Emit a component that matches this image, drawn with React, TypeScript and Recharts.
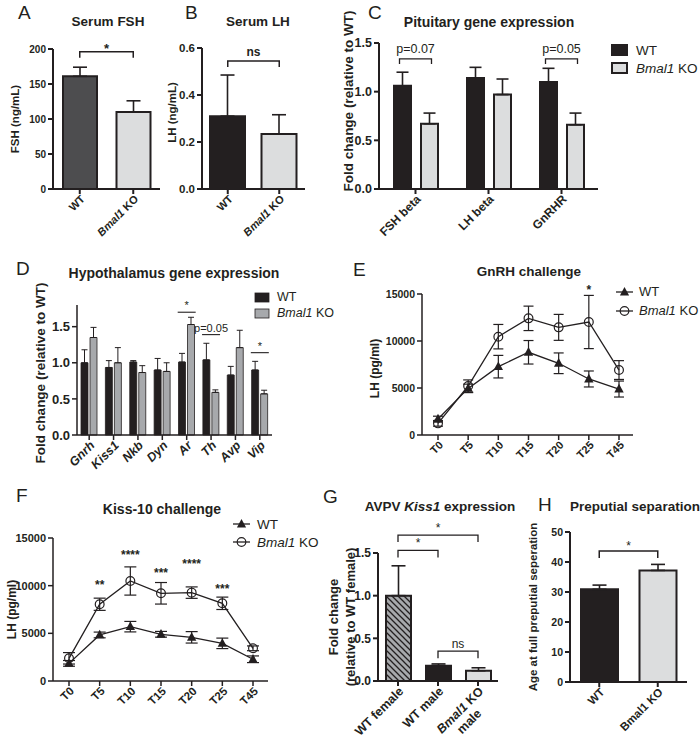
import React from 'react';
import {
  BarChart, Bar, LineChart, Line, XAxis, YAxis, Cell, ErrorBar,
  ReferenceLine, ReferenceDot, Legend,
} from 'recharts';

const FONT = '"Liberation Sans", Arial, Helvetica, sans-serif';
const INK = '#231f20';

// ---------------- data ----------------
const aCats = ['WT', 'Bmal1 KO'];
const aMeans = [161, 110];
const aSems = [13, 16];

const bCats = ['WT', 'Bmal1 KO'];
const bMeans = [0.31, 0.234];
const bSems = [0.175, 0.082];

const cGenes = ['FSH beta', 'LH beta', 'GnRHR'];
const cWT = [1.06, 1.14, 1.1];
const cWTSem = [0.14, 0.11, 0.14];
const cKO = [0.67, 0.97, 0.66];
const cKOSem = [0.11, 0.16, 0.12];

const dGenes = ['Gnrh', 'Kiss1', 'Nkb', 'Dyn', 'Ar', 'Th', 'Avp', 'Vip'];
const dWT = [1.0, 0.935, 1.01, 0.9, 1.01, 1.04, 0.83, 0.9];
const dWTSem = [0.18, 0.095, 0.02, 0.16, 0.12, 0.23, 0.12, 0.12];
const dKO = [1.35, 1.0, 0.865, 0.88, 1.53, 0.59, 1.21, 0.57];
const dKOSem = [0.14, 0.21, 0.095, 0.12, 0.1, 0.035, 0.24, 0.05];

const times = ['T0', 'T5', 'T10', 'T15', 'T20', 'T25', 'T45'];
const eWT = [1700, 4960, 7270, 8800, 7630, 5960, 4890];
const eWTSem = [300, 450, 1200, 1250, 1100, 850, 850];
const eKO = [1240, 5210, 10460, 12410, 11450, 12020, 6910];
const eKOSem = [300, 650, 1300, 1300, 1380, 2830, 1000];
const eStars = [{ t: 'T25', text: '*', y: 14890 }];

const fWT = [1850, 4830, 5700, 4900, 4580, 3950, 2280];
const fWTSem = [300, 300, 550, 300, 600, 550, 350];
const fKO = [2380, 8050, 10490, 9200, 9270, 8150, 3430];
const fKOSem = [600, 640, 1480, 1130, 600, 650, 250];
const fStars = [
  { t: 'T5', text: '**', y: 9650 },
  { t: 'T10', text: '****', y: 12800 },
  { t: 'T15', text: '***', y: 10910 },
  { t: 'T20', text: '****', y: 11860 },
  { t: 'T25', text: '***', y: 9230 },
];

const gCats = ['WT female', 'WT male', 'Bmal1 KO\nmale'];
const gMeans = [1.0, 0.18, 0.12];
const gSems = [0.35, 0.02, 0.035];

const hCats = ['WT', 'Bmal1 KO'];
const hMeans = [30.9, 37.2];
const hSems = [1.4, 2.0];

const aBrackets = [{ from: 'WT', to: 'Bmal1 KO', y: 196, text: '*' }];
const bBrackets = [{ from: 'WT', to: 'Bmal1 KO', y: 0.545, text: 'ns' }];
const cBrackets = [
  { from: 'FSH beta', to: 'FSH beta', y: 1.336, text: 'p=0.07' },
  { from: 'GnRHR', to: 'GnRHR', y: 1.336, text: 'p=0.05' },
];
const dBrackets = [
  { from: 'Ar', to: 'Ar', y: 1.7, text: '*' },
  { from: 'Th', to: 'Th', y: 1.39, text: 'p=0.05' },
  { from: 'Vip', to: 'Vip', y: 1.14, text: '*' },
];
const gBrackets = [
  { from: 'WT female', to: 'Bmal1 KO\nmale', y: 1.71, text: '*' },
  { from: 'WT female', to: 'WT male', y: 1.53, text: '*' },
  { from: 'WT male', to: 'Bmal1 KO\nmale', y: 0.35, text: 'ns' },
];
const hBrackets = [{ from: 'WT', to: 'Bmal1 KO', y: 43.7, text: '*' }];

// ---------------- styling (kept out of data) ----------------
const aFills = ['#4d4d4f', '#dcddde'];
const bFills = ['#231f20', '#dcddde'];
const gFills = ['url(#hatch)', '#231f20', '#dcddde'];
const hFills = ['#231f20', '#dcddde'];

// ---------------- tables ----------------
const cellTable = (cats: string[], m: number[], s: number[]) =>
  cats.map((c, i) => ({ c, v: m[i], e: [0, s[i]] }));
const pairTable = (cats: string[], w: number[], ws: number[], k: number[], ks: number[]) =>
  cats.map((c, i) => ({ c, wt: w[i], wtE: [0, ws[i]], ko: k[i], koE: [0, ks[i]] }));
const lineTable = (w: number[], ws: number[], k: number[], ks: number[]) =>
  times.map((t, i) => ({ t, wt: w[i], wtE: ws[i], ko: k[i], koE: ks[i] }));

const aData = cellTable(aCats, aMeans, aSems);
const bData = cellTable(bCats, bMeans, bSems);
const cData = pairTable(cGenes, cWT, cWTSem, cKO, cKOSem);
const dData = pairTable(dGenes, dWT, dWTSem, dKO, dKOSem);
const eData = lineTable(eWT, eWTSem, eKO, eKOSem);
const fData = lineTable(fWT, fWTSem, fKO, fKOSem);
const gData = cellTable(gCats, gMeans, gSems);
const hData = cellTable(hCats, hMeans, hSems);

// ---------------- helpers ----------------
const words = (s: string, italicAll: boolean, italicBmal: boolean) =>
  s.split(' ').map((w, i, arr) => (
    <tspan key={i} fontStyle={italicAll || (italicBmal && w === 'Bmal1') ? 'italic' : 'normal'}>
      {w}{i < arr.length - 1 ? ' ' : ''}
    </tspan>
  ));

const makeXTick = (fs: number, opt: { italicAll?: boolean; italicBmal?: boolean; dx?: number; dy?: number } = {}) =>
  (props: any) => {
    const { x, y, payload } = props;
    const lines = String(payload.value).split('\n');
    const dx = opt.dx ?? 3;
    const dy = opt.dy ?? 1;
    return (
      <g transform={`translate(${x + dx},${y + dy})`}>
        <text transform="rotate(-45)" textAnchor="end" dy={fs * 0.35} fontSize={fs} fontWeight={700} fill={INK} fontFamily={FONT}>
          {words(lines[0], !!opt.italicAll, opt.italicBmal !== false)}
        </text>
        {lines[1] ? (
          <text transform="rotate(-45)" textAnchor="middle" x={-fs * 2.5} dy={fs * 1.5} fontSize={fs} fontWeight={700} fill={INK} fontFamily={FONT}>
            {lines[1]}
          </text>
        ) : null}
      </g>
    );
  };

const yTick = (fs: number) => ({ fontSize: fs, fontWeight: 700, fill: INK, fontFamily: FONT });
const axisStyle = (sw: number) => ({ stroke: INK, strokeWidth: sw });

// rotated axis title, centred on the axis unless shifted
const RotLabel = (props: any) => {
  const { viewBox, lines, xs, fs, shift = 0 } = props;
  const vb = viewBox || { x: 0, y: 0, height: 0 };
  const cy = vb.y + vb.height / 2 + shift;
  return (
    <g fontFamily={FONT} fontSize={fs} fontWeight={700} fill={INK}>
      {lines.map((t: string, i: number) => (
        <text key={i} transform={`rotate(-90, ${xs[i]}, ${cy})`} x={xs[i]} y={cy} dy={fs * 0.35} textAnchor="middle">{t}</text>
      ))}
    </g>
  );
};

type Br = { from: string; to: string; y: number; text: string };
const renderBrackets = (list: Br[], o: { pad: number; drop: number; sw: number; fs: number; weight: number; offset: number }) =>
  list.map((b, i) => (
    <ReferenceLine
      key={`br${i}`}
      segment={[{ x: b.from, y: b.y }, { x: b.to, y: b.y }]}
      ifOverflow="visible"
      shape={(p: any) => {
        const l = Math.min(p.x1, p.x2) - o.pad;
        const r = Math.max(p.x1, p.x2) + o.pad;
        return <path d={`M${l},${p.y1 + o.drop}V${p.y1}H${r}V${p.y1 + o.drop}`} fill="none" stroke={INK} strokeWidth={o.sw} />;
      }}
      label={{ value: b.text, position: 'top', offset: o.offset, fontSize: o.fs, fontWeight: o.weight, fill: INK, fontFamily: FONT }}
    />
  ));

const nameNode = (s: string) =>
  s.startsWith('Bmal1') ? (<><i>Bmal1</i>{s.slice(5)}</>) : s;
const order = (k: any) => (k === 'wt' ? 0 : 1);

const makeBarLegend = (fs: number, rowH: number, bw: number, bh: number, gap: number, sw: number, fills: Record<string, string>) =>
  (props: any) => {
    const items = [...(props.payload || [])].sort((a: any, b: any) => order(a.dataKey) - order(b.dataKey));
    return (
      <div style={{ fontFamily: FONT, fontSize: fs, color: INK }}>
        {items.map((it: any) => (
          <div key={String(it.dataKey)} style={{ display: 'flex', alignItems: 'center', height: rowH, whiteSpace: 'nowrap' }}>
            <svg width={bw + 2} height={bh + 2} style={{ display: 'block' }}>
              <rect x={1} y={1} width={bw} height={bh} fill={fills[String(it.dataKey)]} stroke={INK} strokeWidth={sw} />
            </svg>
            <span style={{ marginLeft: gap }}>{nameNode(String(it.value))}</span>
          </div>
        ))}
      </div>
    );
  };

const makeLineLegend = (fs: number, rowH: number, lw: number, gap: number) =>
  (props: any) => {
    const items = [...(props.payload || [])].sort((a: any, b: any) => order(a.dataKey) - order(b.dataKey));
    return (
      <div style={{ fontFamily: FONT, fontSize: fs, color: INK }}>
        {items.map((it: any) => {
          const c = lw / 2;
          return (
            <div key={String(it.dataKey)} style={{ display: 'flex', alignItems: 'center', height: rowH, whiteSpace: 'nowrap' }}>
              <svg width={lw} height={12} style={{ display: 'block' }}>
                <line x1={0} y1={6} x2={lw} y2={6} stroke={INK} strokeWidth={1.3} />
                {it.dataKey === 'wt'
                  ? <path d={`M${c},${1}L${c + 4.6},${9.4}L${c - 4.6},${9.4}Z`} fill={INK} />
                  : <circle cx={c} cy={6} r={4.3} fill="none" stroke={INK} strokeWidth={1.2} />}
              </svg>
              <span style={{ marginLeft: gap }}>{nameNode(String(it.value))}</span>
            </div>
          );
        })}
      </div>
    );
  };

const triDot = (p: any) => {
  const { cx, cy, index } = p;
  if (cx == null || cy == null) return <g key={`t${index}`} />;
  return <path key={`t${index}`} d={`M${cx},${cy - 5.2}L${cx + 4.7},${cy + 3.4}L${cx - 4.7},${cy + 3.4}Z`} fill={INK} />;
};
const circDot = (p: any) => {
  const { cx, cy, index } = p;
  if (cx == null || cy == null) return <g key={`c${index}`} />;
  return <circle key={`c${index}`} cx={cx} cy={cy} r={4.4} fill="none" stroke={INK} strokeWidth={1.2} />;
};

// ---------------- panels ----------------
function PanelA() {
  return (
    <BarChart width={175} height={240} data={aData} margin={{ top: 49, right: 15, left: 0, bottom: 0 }}>
      <XAxis dataKey="c" interval={0} height={51} tickSize={5} tickMargin={2} axisLine={axisStyle(2)} tickLine={axisStyle(2)} tick={makeXTick(11)} />
      <YAxis width={53} domain={[0, 200]} ticks={[0, 50, 100, 150, 200]} tickSize={5} tickMargin={2} axisLine={axisStyle(2)} tickLine={axisStyle(2)} tick={yTick(10)}
        label={<RotLabel lines={['FSH (ng/mL)']} xs={[15]} fs={11.5} />} />
      <Bar dataKey="v" barSize={34} isAnimationActive={false}>
        {aData.map((d, i) => <Cell key={i} fill={aFills[i]} stroke={INK} strokeWidth={2} />)}
        <ErrorBar dataKey="e" width={7} strokeWidth={1.6} stroke={INK} direction="y" />
      </Bar>
      {renderBrackets(aBrackets, { pad: 0, drop: 6, sw: 1.5, fs: 13, weight: 700, offset: -1 })}
    </BarChart>
  );
}

function PanelB() {
  return (
    <BarChart width={165} height={240} data={bData} margin={{ top: 48, right: 10, left: 0, bottom: 0 }}>
      <XAxis dataKey="c" interval={0} height={51} tickSize={5} tickMargin={2} axisLine={axisStyle(2)} tickLine={axisStyle(2)} tick={makeXTick(11)} />
      <YAxis width={52} domain={[0, 0.6]} ticks={[0, 0.2, 0.4, 0.6]} tickFormatter={(v: number) => v.toFixed(1)} tickSize={5} tickMargin={2} axisLine={axisStyle(2)} tickLine={axisStyle(2)} tick={yTick(11.5)}
        label={<RotLabel lines={['LH (ng/mL)']} xs={[22]} fs={11.5} shift={-6} />} />
      <Bar dataKey="v" barSize={35} isAnimationActive={false}>
        {bData.map((d, i) => <Cell key={i} fill={bFills[i]} stroke={INK} strokeWidth={2} />)}
        <ErrorBar dataKey="e" width={7} strokeWidth={1.6} stroke={INK} direction="y" />
      </Bar>
      {renderBrackets(bBrackets, { pad: 0, drop: 6, sw: 1.5, fs: 12, weight: 700, offset: 5 })}
    </BarChart>
  );
}

function PanelC() {
  return (
    <BarChart width={380} height={240} data={cData} margin={{ top: 43, right: 102, left: 0, bottom: 0 }} barSize={17} barGap={10}>
      <XAxis dataKey="c" interval={0} height={51} tickSize={5} tickMargin={2} axisLine={axisStyle(2)} tickLine={axisStyle(2)} tick={makeXTick(12)} />
      <YAxis width={59} domain={[0, 1.5]} ticks={[0, 0.5, 1, 1.5]} tickFormatter={(v: number) => v.toFixed(1)} tickSize={5} tickMargin={2} axisLine={axisStyle(2)} tickLine={axisStyle(2)} tick={yTick(12.5)}
        label={<RotLabel lines={['Fold change (relative to WT)']} xs={[28]} fs={13.5} shift={-15} />} />
      <Bar dataKey="wt" name="WT" fill="#231f20" stroke={INK} strokeWidth={2} isAnimationActive={false}>
        <ErrorBar dataKey="wtE" width={6} strokeWidth={1.6} stroke={INK} direction="y" />
      </Bar>
      <Bar dataKey="ko" name="Bmal1 KO" fill="#dcddde" stroke={INK} strokeWidth={2} isAnimationActive={false}>
        <ErrorBar dataKey="koE" width={6} strokeWidth={1.6} stroke={INK} direction="y" />
      </Bar>
      {renderBrackets(cBrackets, { pad: 16, drop: 5, sw: 1.3, fs: 12.5, weight: 400, offset: 6 })}
      <Legend layout="vertical" align="center" verticalAlign="middle" wrapperStyle={{ left: 291, top: 41, width: 88 }}
        content={makeBarLegend(13.5, 18, 15, 10, 8, 2, { wt: '#231f20', ko: '#dcddde' })} />
    </BarChart>
  );
}

function PanelD() {
  return (
    <BarChart width={340} height={250} data={dData} margin={{ top: 75, right: 68, left: 0, bottom: 0 }} barSize={7} barGap={2}>
      <XAxis dataKey="c" interval={0} height={45} tickSize={5} tickMargin={2} axisLine={axisStyle(1.5)} tickLine={axisStyle(1.5)} tick={makeXTick(12.5, { italicAll: true })} />
      <YAxis width={77} domain={[0, 1.8]} ticks={[0, 0.5, 1, 1.5]} tickFormatter={(v: number) => v.toFixed(1)} tickSize={5} tickMargin={2} axisLine={axisStyle(1.5)} tickLine={axisStyle(1.5)} tick={yTick(13)}
        label={<RotLabel lines={['Fold change (relative to WT)']} xs={[40]} fs={13.5} shift={3} />} />
      <Bar dataKey="wt" name="WT" fill="#231f20" stroke={INK} strokeWidth={0.8} isAnimationActive={false}>
        <ErrorBar dataKey="wtE" width={3} strokeWidth={1} stroke={INK} direction="y" />
      </Bar>
      <Bar dataKey="ko" name="Bmal1 KO" fill="#a7a9ac" stroke={INK} strokeWidth={0.8} isAnimationActive={false}>
        <ErrorBar dataKey="koE" width={3} strokeWidth={1} stroke={INK} direction="y" />
      </Bar>
      {renderBrackets(dBrackets, { pad: 9, drop: 0, sw: 1.1, fs: 11, weight: 400, offset: 3 })}
      <Legend layout="vertical" align="center" verticalAlign="middle" wrapperStyle={{ left: 254, top: 59, width: 86 }}
        content={makeBarLegend(12.5, 16, 14, 9, 7, 0.8, { wt: '#231f20', ko: '#a7a9ac' })} />
    </BarChart>
  );
}

function PanelE() {
  return (
    <LineChart width={360} height={250} data={eData} margin={{ top: 64, right: 67, left: 0, bottom: 0 }}>
      <XAxis dataKey="t" interval={0} height={45} padding={{ left: 16, right: 14 }} tickSize={5} tickMargin={2} axisLine={axisStyle(1.5)} tickLine={axisStyle(1.5)} tick={makeXTick(11)} />
      <YAxis width={82} domain={[0, 15000]} ticks={[0, 5000, 10000, 15000]} tickSize={5} tickMargin={2} axisLine={axisStyle(1.5)} tickLine={axisStyle(1.5)} tick={yTick(10.5)}
        label={<RotLabel lines={['LH (pg/ml)']} xs={[35]} fs={12} shift={4} />} />
      <Line dataKey="wt" name="WT" stroke={INK} strokeWidth={1.3} dot={triDot} activeDot={false} isAnimationActive={false}>
        <ErrorBar dataKey="wtE" width={5} strokeWidth={1.2} stroke={INK} direction="y" />
      </Line>
      <Line dataKey="ko" name="Bmal1 KO" stroke={INK} strokeWidth={1.3} dot={circDot} activeDot={false} isAnimationActive={false}>
        <ErrorBar dataKey="koE" width={5} strokeWidth={1.2} stroke={INK} direction="y" />
      </Line>
      {eStars.map((s, i) => (
        <ReferenceDot key={`s${i}`} x={s.t} y={s.y} r={0} ifOverflow="visible" fill="none" stroke="none"
          label={{ value: s.text, position: 'top', offset: 1, fontSize: 12, fontWeight: 700, fill: INK, fontFamily: FONT }} />
      ))}
      <Legend layout="vertical" align="center" verticalAlign="middle" wrapperStyle={{ left: 276, top: 52, width: 84 }}
        content={makeLineLegend(13, 19, 17, 6)} />
    </LineChart>
  );
}

function PanelF() {
  return (
    <LineChart width={330} height={260} data={fData} margin={{ top: 68, right: 62, left: 0, bottom: 0 }}>
      <XAxis dataKey="t" interval={0} height={49} padding={{ left: 16, right: 15 }} tickSize={5} tickMargin={2} axisLine={axisStyle(1.5)} tickLine={axisStyle(1.5)} tick={makeXTick(11.5)} />
      <YAxis width={53} domain={[0, 15000]} ticks={[0, 5000, 10000, 15000]} tickSize={5} tickMargin={2} axisLine={axisStyle(1.5)} tickLine={axisStyle(1.5)} tick={yTick(11)}
        label={<RotLabel lines={['LH (pg/ml)']} xs={[12]} fs={12} />} />
      <Line dataKey="wt" name="WT" stroke={INK} strokeWidth={1.3} dot={triDot} activeDot={false} isAnimationActive={false}>
        <ErrorBar dataKey="wtE" width={6} strokeWidth={1.2} stroke={INK} direction="y" />
      </Line>
      <Line dataKey="ko" name="Bmal1 KO" stroke={INK} strokeWidth={1.3} dot={circDot} activeDot={false} isAnimationActive={false}>
        <ErrorBar dataKey="koE" width={6} strokeWidth={1.2} stroke={INK} direction="y" />
      </Line>
      {fStars.map((s, i) => (
        <ReferenceDot key={`s${i}`} x={s.t} y={s.y} r={0} ifOverflow="visible" fill="none" stroke="none"
          label={{ value: s.text, position: 'top', offset: 0, fontSize: 12, fontWeight: 700, fill: INK, fontFamily: FONT }} />
      ))}
      <Legend layout="vertical" align="center" verticalAlign="middle" wrapperStyle={{ left: 233, top: 45, width: 97 }}
        content={makeLineLegend(13.5, 18, 17, 7)} />
    </LineChart>
  );
}

function PanelG() {
  return (
    <BarChart width={190} height={278} data={gData} margin={{ top: 83, right: 12, left: 0, bottom: 0 }}>
      <defs>
        <pattern id="hatch" patternUnits="userSpaceOnUse" width={6} height={6}>
          <rect width={6} height={6} fill="#a7a9ac" />
          <path d="M0,0L6,6M-1,5L1,7M5,-1L7,1" stroke={INK} strokeWidth={1.3} />
        </pattern>
      </defs>
      <XAxis dataKey="c" interval={0} height={67} tickSize={5} tickMargin={2} axisLine={axisStyle(2)} tickLine={axisStyle(2)} tick={makeXTick(12.5)} />
      <YAxis width={58} domain={[0, 1.5]} ticks={[0, 0.5, 1, 1.5]} tickFormatter={(v: number) => v.toFixed(1)} tickSize={5} tickMargin={2} axisLine={axisStyle(2)} tickLine={axisStyle(2)} tick={yTick(12)}
        label={<RotLabel lines={['Fold change', '(relative to WT female)']} xs={[13, 30]} fs={13} />} />
      <Bar dataKey="v" barSize={25} isAnimationActive={false}>
        {gData.map((d, i) => <Cell key={i} fill={gFills[i]} stroke={INK} strokeWidth={2} />)}
        <ErrorBar dataKey="e" width={7} strokeWidth={1.6} stroke={INK} direction="y" />
      </Bar>
      {renderBrackets(gBrackets, { pad: 0, drop: 7, sw: 1.3, fs: 12, weight: 400, offset: 3 })}
    </BarChart>
  );
}

function PanelH() {
  return (
    <BarChart width={180} height={278} data={hData} margin={{ top: 62, right: 13, left: 0, bottom: 0 }}>
      <XAxis dataKey="c" interval={0} height={66} tickSize={5} tickMargin={2} axisLine={axisStyle(2)} tickLine={axisStyle(2)} tick={makeXTick(11.5, { italicBmal: false })} />
      <YAxis width={50} domain={[0, 50]} ticks={[0, 10, 20, 30, 40, 50]} tickSize={5} tickMargin={2} axisLine={axisStyle(2)} tickLine={axisStyle(2)} tick={yTick(10.5)}
        label={<RotLabel lines={['Age at full preputial seperation']} xs={[13]} fs={11.5} />} />
      <Bar dataKey="v" barSize={37} isAnimationActive={false}>
        {hData.map((d, i) => <Cell key={i} fill={hFills[i]} stroke={INK} strokeWidth={2} />)}
        <ErrorBar dataKey="e" width={7} strokeWidth={1.6} stroke={INK} direction="y" />
      </Bar>
      {renderBrackets(hBrackets, { pad: 0, drop: 7, sw: 1.5, fs: 12, weight: 400, offset: 1 })}
    </BarChart>
  );
}

const letters = [
  { t: 'A', x: 18, y: 19 }, { t: 'B', x: 185, y: 19 }, { t: 'C', x: 368, y: 19 },
  { t: 'D', x: 16, y: 275 }, { t: 'E', x: 353, y: 276 },
  { t: 'F', x: 16, y: 502 }, { t: 'G', x: 323, y: 503 }, { t: 'H', x: 538, y: 511 },
];
const titles = [
  { t: 'Serum FSH', x: 108, y: 26, fs: 13.5 },
  { t: 'Serum LH', x: 258, y: 26, fs: 13.5 },
  { t: 'Pituitary gene expression', x: 489, y: 27, fs: 14 },
  { t: 'Hypothalamus gene expression', x: 174, y: 278, fs: 14 },
  { t: 'GnRH challenge', x: 529, y: 276, fs: 13.5 },
  { t: 'Kiss-10 challenge', x: 162, y: 514, fs: 14 },
  { t: 'AVPV |Kiss1| expression', x: 440, y: 511, fs: 13.5 },
  { t: 'Preputial separation', x: 635, y: 511, fs: 13.5 },
];

const place = (l: number, t: number, child: React.ReactNode) => (
  <div style={{ position: 'absolute', left: l, top: t }}>{child}</div>
);

export default function App() {
  return (
    <div style={{ position: 'absolute', left: 0, top: 0, width: 700, height: 748, background: '#fff', overflow: 'hidden', fontFamily: FONT }}>
      {place(0, 0, <PanelA />)}
      {place(150, 0, <PanelB />)}
      {place(320, 0, <PanelC />)}
      {place(0, 230, <PanelD />)}
      {place(340, 230, <PanelE />)}
      {place(0, 470, <PanelF />)}
      {place(320, 470, <PanelG />)}
      {place(520, 470, <PanelH />)}
      <svg width={700} height={748} style={{ position: 'absolute', left: 0, top: 0, pointerEvents: 'none' }}>
        {letters.map((l) => (
          <text key={l.t} x={l.x} y={l.y} fontSize={19} fontFamily={FONT} fill={INK}>{l.t}</text>
        ))}
        {titles.map((t) => (
          <text key={t.t} x={t.x} y={t.y} fontSize={t.fs} fontWeight={700} fontFamily={FONT} fill={INK} textAnchor="middle">
            {t.t.split('|').map((p, i) => <tspan key={i} fontStyle={i === 1 ? 'italic' : 'normal'}>{p}</tspan>)}
          </text>
        ))}
      </svg>
    </div>
  );
}
